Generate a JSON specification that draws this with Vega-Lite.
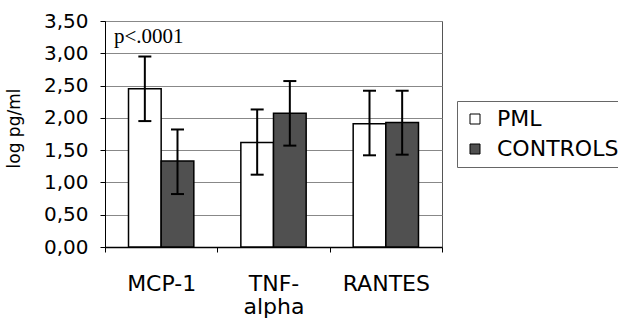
{
  "$schema": "https://vega.github.io/schema/vega-lite/v6.json",
  "width": 337,
  "height": 226,
  "autosize": {"type": "none"},
  "padding": {"left": 105, "top": 21, "right": 176, "bottom": 73},
  "background": "white",
  "config": {
    "font": "DejaVu Sans",
    "locale": {"number": {"decimal": ",", "thousands": ".", "grouping": [3], "currency": ["", " €"]}},
    "view": {"stroke": "#555", "strokeWidth": 1}
  },
  "datasets": {
    "bars": [
      {"cytokine": "MCP-1", "group": "PML", "mean": 2.45, "lo": 1.95, "hi": 2.95},
      {"cytokine": "MCP-1", "group": "CONTROLS", "mean": 1.33, "lo": 0.82, "hi": 1.82},
      {"cytokine": "TNF-alpha", "group": "PML", "mean": 1.62, "lo": 1.12, "hi": 2.13},
      {"cytokine": "TNF-alpha", "group": "CONTROLS", "mean": 2.07, "lo": 1.57, "hi": 2.57},
      {"cytokine": "RANTES", "group": "PML", "mean": 1.91, "lo": 1.42, "hi": 2.42},
      {"cytokine": "RANTES", "group": "CONTROLS", "mean": 1.93, "lo": 1.43, "hi": 2.42}
    ],
    "note": [{"label": "p<.0001"}]
  },
  "layer": [
    {
      "data": {"name": "bars"},
      "mark": {"type": "bar", "stroke": "black", "strokeWidth": 1.5},
      "encoding": {
        "x": {
          "field": "cytokine", "type": "nominal", "sort": ["MCP-1", "TNF-alpha", "RANTES"],
          "scale": {"paddingInner": 0, "paddingOuter": 0},
          "axis": {
            "title": null, "labelAngle": 0, "labelFontSize": 22, "labelColor": "black",
            "tickBand": "extent", "tickSize": 5, "tickColor": "black", "domainColor": "black",
            "domainWidth": 1.5, "labelPadding": 21, "labelLineHeight": 23, "grid": false,
            "labelExpr": "datum.label == 'TNF-alpha' ? ['TNF-', 'alpha'] : datum.label"
          }
        },
        "xOffset": {"field": "group", "type": "nominal", "sort": ["PML", "CONTROLS"], "scale": {"paddingInner": 0, "paddingOuter": 0.72}},
        "y": {
          "field": "mean", "type": "quantitative",
          "scale": {"domain": [0, 3.5], "nice": false},
          "axis": {
            "title": "log pg/ml", "values": [0, 0.5, 1, 1.5, 2, 2.5, 3, 3.5], "tickCount": 8, "format": ".2f",
            "labelOverlap": false, "labelFlush": false,
            "labelFontSize": 20, "labelColor": "black", "titleFontSize": 17, "titleFontWeight": "normal",
            "titleColor": "black", "gridColor": "#888", "domainColor": "black", "tickColor": "black",
            "tickSize": 5, "labelPadding": 12, "titlePadding": 20, "titleY": 107
          }
        },
        "fill": {
          "field": "group", "type": "nominal",
          "scale": {"domain": ["PML", "CONTROLS"], "range": ["white", "#505050"]},
          "legend": {
            "title": null, "orient": "none", "legendX": 352, "legendY": 80, "symbolType": "square",
            "symbolSize": 100, "symbolStrokeColor": "black", "symbolStrokeWidth": 1, "symbolOpacity": 1,
            "labelFontSize": 22, "labelColor": "black", "labelOffset": 11, "strokeColor": "#666",
            "fillColor": "white", "padding": 7, "rowPadding": 8
          }
        }
      }
    },
    {
      "data": {"name": "bars"},
      "mark": {"type": "rule", "strokeWidth": 2, "color": "black"},
      "encoding": {
        "x": {"field": "cytokine", "type": "nominal", "sort": ["MCP-1", "TNF-alpha", "RANTES"]},
        "xOffset": {"field": "group", "type": "nominal", "sort": ["PML", "CONTROLS"]},
        "y": {"field": "lo", "type": "quantitative"},
        "y2": {"field": "hi"}
      }
    },
    {
      "data": {"name": "bars"},
      "mark": {"type": "tick", "thickness": 2, "size": 13, "color": "black", "opacity": 1},
      "encoding": {
        "x": {"field": "cytokine", "type": "nominal", "sort": ["MCP-1", "TNF-alpha", "RANTES"]},
        "xOffset": {"field": "group", "type": "nominal", "sort": ["PML", "CONTROLS"]},
        "y": {"field": "hi", "type": "quantitative"}
      }
    },
    {
      "data": {"name": "bars"},
      "mark": {"type": "tick", "thickness": 2, "size": 13, "color": "black", "opacity": 1},
      "encoding": {
        "x": {"field": "cytokine", "type": "nominal", "sort": ["MCP-1", "TNF-alpha", "RANTES"]},
        "xOffset": {"field": "group", "type": "nominal", "sort": ["PML", "CONTROLS"]},
        "y": {"field": "lo", "type": "quantitative"}
      }
    },
    {
      "data": {"name": "note"},
      "mark": {"type": "text", "font": "Liberation Serif", "fontSize": 21, "align": "left", "baseline": "alphabetic", "dx": 9, "dy": 22, "color": "black"},
      "encoding": {
        "x": {"datum": "MCP-1", "type": "nominal", "bandPosition": 0},
        "y": {"datum": 3.5, "type": "quantitative"},
        "text": {"field": "label"}
      }
    }
  ]
}
